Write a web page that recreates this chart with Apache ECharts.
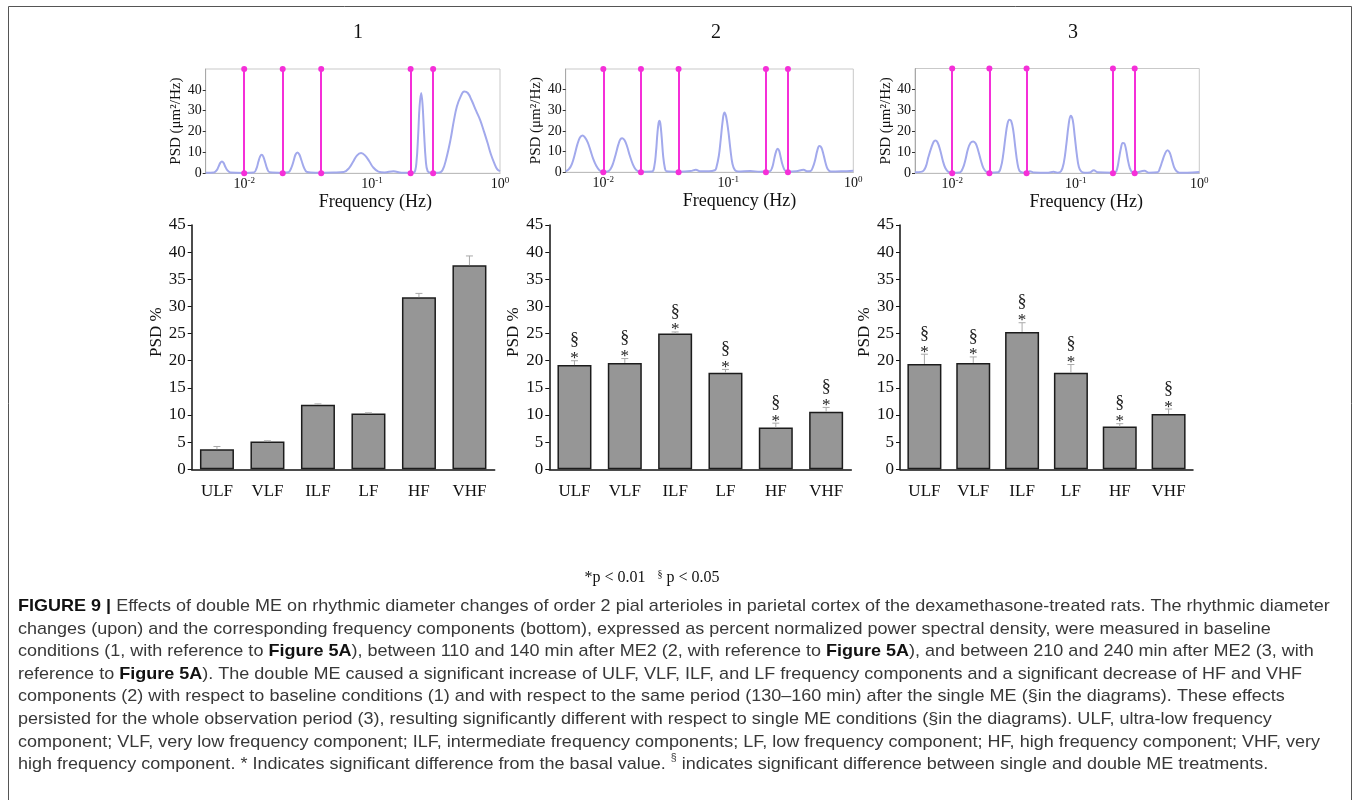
<!DOCTYPE html>
<html>
<head>
<meta charset="utf-8">
<script src="https://cdn.jsdelivr.net/npm/echarts@6/dist/echarts.min.js"></script>
<style>
  html, body { margin: 0; padding: 0; background: #fff; }
  #chart { width: 1360px; height: 800px; }
</style>
</head>
<body>
<div id="chart"></div>
<script>
// ---- Power spectra: [frequency (Hz), PSD (um^2/Hz)] ----
const spectrum1 = [
  [0.005, 0.3], [0.0058, 0.4], [0.0061, 1.5], [0.0063, 3.2], [0.0065, 5.0], [0.0067, 5.7], [0.0069, 5.0], [0.0071, 3.3], [0.0074, 1.4], [0.0078, 0.4],
  [0.0100, 0.2], [0.0119, 0.4], [0.0125, 2.5], [0.0129, 5.5], [0.0133, 8.0], [0.0137, 8.9], [0.0141, 8.0], [0.0146, 5.2], [0.0151, 2.3], [0.0158, 0.5],
  [0.020, 0.3], [0.0222, 0.5], [0.0233, 2.5], [0.0243, 5.8], [0.0252, 9.0], [0.0261, 10.0], [0.0270, 9.0], [0.0281, 6.0], [0.0293, 2.8], [0.0310, 0.6],
  [0.036, 0.3], [0.050, 0.4], [0.060, 0.6], [0.066, 2.5], [0.071, 5.5], [0.076, 8.5], [0.082, 9.7], [0.088, 8.6], [0.095, 5.8], [0.102, 2.8], [0.112, 0.8],
  [0.125, 0.4], [0.147, 1.0], [0.170, 0.3], [0.205, 0.3], [0.214, 0.5], [0.222, 5], [0.229, 18], [0.235, 32], [0.242, 38.5], [0.248, 33], [0.255, 19],
  [0.263, 6], [0.272, 1], [0.290, 0.3], [0.330, 0.3], [0.355, 1.5], [0.380, 7], [0.410, 16], [0.435, 25], [0.460, 32], [0.490, 36.5], [0.525, 39.2],
  [0.560, 38.5], [0.600, 35], [0.650, 30], [0.700, 25.5], [0.750, 20], [0.800, 14.5], [0.850, 9], [0.900, 5], [0.950, 2], [1.0, 1.0]
];
const spectrum2 = [
  [0.005, 0.5], [0.0053, 1.5], [0.0056, 4], [0.0059, 8.5], [0.0062, 13.5], [0.0065, 16.8], [0.0068, 17.8], [0.0071, 17], [0.0075, 14.5], [0.0079, 10.5],
  [0.0083, 6.5], [0.0088, 3], [0.0093, 1], [0.0098, 0.3], [0.0108, 0.4], [0.0114, 1.5], [0.0120, 4.5], [0.0126, 9], [0.0132, 13.5], [0.0137, 16],
  [0.0142, 16.5], [0.0148, 15.5], [0.0155, 12.5], [0.0163, 8], [0.0172, 4], [0.0182, 1.3], [0.0195, 0.3], [0.0245, 0.4], [0.0256, 3], [0.0264, 10],
  [0.0271, 19], [0.0277, 24], [0.0281, 24.9], [0.0286, 23.5], [0.0293, 17], [0.0301, 8], [0.0311, 2], [0.0320, 0.5], [0.040, 0.3], [0.050, 0.6],
  [0.055, 1.2], [0.060, 0.5], [0.070, 0.5], [0.078, 1], [0.080, 2], [0.084, 8], [0.087, 16], [0.090, 24.5], [0.093, 28.9], [0.096, 27],
  [0.100, 20], [0.104, 11], [0.108, 4], [0.113, 1], [0.120, 0.4], [0.150, 0.6], [0.180, 0.3], [0.200, 0.4], [0.215, 0.5], [0.225, 2.5],
  [0.233, 6.5], [0.241, 10], [0.248, 11.4], [0.255, 10.5], [0.263, 7], [0.272, 3.5], [0.283, 1], [0.295, 0.3], [0.350, 0.5], [0.400, 1.2],
  [0.430, 0.5], [0.455, 0.6], [0.475, 2.5], [0.495, 6], [0.515, 10.5], [0.535, 12.7], [0.555, 12], [0.578, 8.5], [0.600, 4.5], [0.625, 1.5],
  [0.660, 0.4], [0.800, 0.5], [1.0, 0.8]
];
const spectrum3 = [
  [0.005, 0.5], [0.0057, 0.8], [0.0061, 3], [0.0064, 7.5], [0.0068, 12.5], [0.0071, 15.2], [0.0073, 15.7], [0.0076, 14.8], [0.0080, 11], [0.0084, 6],
  [0.0088, 2.5], [0.0093, 0.7], [0.0100, 0.3], [0.0115, 0.4], [0.0122, 2.5], [0.0128, 6.5], [0.0134, 11.5], [0.0141, 14.6], [0.0148, 15.2], [0.0155, 14.2],
  [0.0162, 11], [0.0170, 6.5], [0.0179, 2.5], [0.0190, 0.6], [0.0200, 0.3], [0.0235, 0.5], [0.0248, 3], [0.0259, 9], [0.0270, 17.5], [0.0280, 23.5],
  [0.0290, 25.6], [0.0300, 25], [0.0312, 20.5], [0.0324, 12.5], [0.0337, 5], [0.0350, 1.2], [0.0370, 0.4], [0.040, 0.3], [0.0425, 1], [0.046, 0.4],
  [0.060, 0.3], [0.066, 0.7], [0.071, 0.3], [0.076, 1], [0.080, 5], [0.084, 14], [0.0875, 23], [0.091, 27.5], [0.0945, 25.5], [0.098, 18],
  [0.102, 9], [0.106, 3], [0.111, 0.8], [0.118, 0.3], [0.130, 0.4], [0.140, 1.5], [0.150, 0.5], [0.200, 0.3], [0.210, 0.5], [0.217, 2.5],
  [0.224, 7], [0.232, 12], [0.240, 14.5], [0.247, 14.3], [0.255, 11.5], [0.264, 6.5], [0.274, 2.5], [0.285, 0.6], [0.300, 0.3], [0.360, 1.2],
  [0.390, 0.3], [0.460, 0.5], [0.480, 2.5], [0.500, 5.5], [0.525, 9], [0.552, 11], [0.575, 10], [0.600, 6.5], [0.625, 3], [0.655, 1],
  [0.690, 0.3], [0.800, 0.3], [1.0, 0.6]
];
// band limits (Hz) marked on each spectrum
const bandLimits = [0.01, 0.02, 0.04, 0.2, 0.3];

// ---- Frequency components, PSD % (mean and error) ----
const components = ['ULF', 'VLF', 'ILF', 'LF', 'HF', 'VHF'];
const psdBaseline = [3.7, 5.1, 11.9, 10.3, 31.7, 37.6];
const errBaseline = [0.5, 0.15, 0.15, 0.1, 0.7, 1.7];
const psdAfter110 = [19.2, 19.6, 25.0, 17.8, 7.7, 10.6];
const errAfter110 = [0.8, 0.8, 0.3, 0.6, 0.8, 0.8];
const psdAfter210 = [19.4, 19.6, 25.3, 17.8, 7.9, 10.2];
const errAfter210 = [1.8, 1.1, 1.7, 1.5, 0.5, 0.9];
const sigBaseline = ['', '', '', '', '', ''];
const sigAfter110 = ['*§', '*§', '*§', '*§', '*§', '*§'];
const sigAfter210 = ['*§', '*§', '*§', '*§', '*§', '*§'];

const panelTitles = ['1', '2', '3'];
const spectrumTicks = [0, 10, 20, 30, 40];

const captionLines = [
  '{b|FIGURE 9 |} Effects of double ME on rhythmic diameter changes of order 2 pial arterioles in parietal cortex of the dexamethasone-treated rats. The rhythmic diameter',
  'changes (upon) and the corresponding frequency components (bottom), expressed as percent normalized power spectral density, were measured in baseline',
  'conditions (1, with reference to {f|Figure 5A}), between 110 and 140 min after ME2 (2, with reference to {f|Figure 5A}), and between 210 and 240 min after ME2 (3, with',
  'reference to {f|Figure 5A}). The double ME caused a significant increase of ULF, VLF, ILF, and LF frequency components and a significant decrease of HF and VHF',
  'components (2) with respect to baseline conditions (1) and with respect to the same period (130–160 min) after the single ME (§in the diagrams). These effects',
  'persisted for the whole observation period (3), resulting significantly different with respect to single ME conditions (§in the diagrams). ULF, ultra-low frequency',
  'component; VLF, very low frequency component; ILF, intermediate frequency components; LF, low frequency component; HF, high frequency component; VHF, very',
  'high frequency component. * Indicates significant difference from the basal value. {s|§} indicates significant difference between single and double ME treatments.'
];

const SERIF = "'Liberation Serif', 'Times New Roman', serif";
const SANS = "'Liberation Sans', Arial, sans-serif";
const CAPTION_SIZE = 17;

const spectrumGrids = [
  { left: 205.7, top: 69, width: 294.3, height: 104.3 },
  { left: 565.7, top: 69, width: 287.6, height: 103.3 },
  { left: 915, top: 68.5, width: 284.3, height: 104.8 }
];
const barGrids = [
  { left: 191.7, top: 225, width: 303, height: 244.3 },
  { left: 549.3, top: 225, width: 302, height: 244.3 },
  { left: 900, top: 225, width: 293, height: 244.3 }
];
const freqNamePad = [45, 60, 58];

const spectra = [spectrum1, spectrum2, spectrum3];
const means = [psdBaseline, psdAfter110, psdAfter210];
const errs = [errBaseline, errAfter110, errAfter210];
const sigs = [sigBaseline, sigAfter110, sigAfter210];

const grid = [], xAxis = [], yAxis = [], series = [];

spectrumGrids.forEach((g, k) => {
  grid.push(Object.assign({ show: true, borderColor: '#c9c9c9', borderWidth: 1, backgroundColor: 'transparent' }, g));
  xAxis.push({
    gridIndex: k, type: 'log', logBase: 10, min: 0.005, max: 1,
    name: 'Frequency (Hz)', nameLocation: 'middle', nameGap: 18,
    nameTextStyle: { fontFamily: SERIF, fontSize: 18, color: '#111', padding: [0, 0, 0, freqNamePad[k]] },
    axisLine: { show: true, lineStyle: { color: '#bdbdbd', width: 1 } },
    axisTick: { show: false }, splitLine: { show: false },
    axisLabel: {
      showMinLabel: false, margin: 3, fontFamily: SERIF, fontSize: 14, color: '#111', lineHeight: 16,
      formatter: v => '10{s|' + Math.round(Math.log10(v)) + '}',
      rich: { s: { fontFamily: SERIF, fontSize: 9, verticalAlign: 'top', lineHeight: 10, color: '#111' } }
    }
  });
  yAxis.push({
    gridIndex: k, type: 'value', min: 0, max: 50, interval: 10,
    name: 'PSD (μm²/Hz)', nameLocation: 'middle', nameGap: 17,
    nameTextStyle: { fontFamily: SERIF, fontSize: 15, color: '#111' },
    axisLine: { show: true, lineStyle: { color: '#a8a8a8', width: 1 } },
    axisTick: { show: true, length: 3, lineStyle: { color: '#333' }, customValues: spectrumTicks },
    splitLine: { show: false },
    axisLabel: { margin: 4, fontFamily: SERIF, fontSize: 14, color: '#111', customValues: spectrumTicks }
  });
  series.push({
    type: 'line', xAxisIndex: k, yAxisIndex: k, data: spectra[k],
    smooth: 0.4, symbol: 'none', clip: true,
    lineStyle: { color: '#a2a9ec', width: 2 },
    markLine: {
      silent: true, symbol: ['circle', 'circle'], symbolSize: 6,
      label: { show: false },
      lineStyle: { color: '#f52fd8', width: 2, type: 'solid' },
      data: bandLimits.map(f => ({ xAxis: f }))
    }
  });
});

// error bars with significance marks on top
function errorBarItem(k) {
  return function (params, api) {
    const i = api.value(0), m = api.value(1), e = api.value(2);
    const p0 = api.coord([i, m]);
    const p1 = api.coord([i, m + e]);
    const children = [
      { type: 'line', shape: { x1: p0[0], y1: p0[1], x2: p1[0], y2: p1[1] }, style: { stroke: '#a9a9a9', lineWidth: 1 } },
      { type: 'line', shape: { x1: p1[0] - 3.5, y1: p1[1], x2: p1[0] + 3.5, y2: p1[1] }, style: { stroke: '#a9a9a9', lineWidth: 1 } }
    ];
    const s = sigs[k][params.dataIndex];
    if (s.indexOf('*') >= 0) {
      children.push({ type: 'text', x: p1[0], y: p1[1] - 2, style: { text: '*', font: '17px ' + SERIF, fill: '#222', align: 'center', verticalAlign: 'middle', textAlign: 'center', textVerticalAlign: 'middle' } });
    }
    if (s.indexOf('§') >= 0) {
      children.push({ type: 'text', x: p1[0], y: p1[1] - 20, style: { text: '§', font: '18px ' + SERIF, fill: '#222', align: 'center', verticalAlign: 'middle', textAlign: 'center', textVerticalAlign: 'middle' } });
    }
    return { type: 'group', children };
  };
}

barGrids.forEach((g, j) => {
  const k = j + 3;
  grid.push(Object.assign({ show: false }, g));
  xAxis.push({
    gridIndex: k, type: 'category', data: components,
    axisLine: { show: true, lineStyle: { color: '#111', width: 1.5 } },
    axisTick: { show: false },
    axisLabel: { margin: 14, fontFamily: SERIF, fontSize: 17, color: '#111' }
  });
  yAxis.push({
    gridIndex: k, type: 'value', min: 0, max: 45, interval: 5,
    name: 'PSD %', nameLocation: 'middle', nameGap: 27,
    nameTextStyle: { fontFamily: SERIF, fontSize: 17, color: '#111', padding: [0, 0, 0, 30] },
    axisLine: { show: true, lineStyle: { color: '#111', width: 1.5 } },
    axisTick: { show: true, inside: false, length: 4, lineStyle: { color: '#111', width: 1 } },
    splitLine: { show: false },
    axisLabel: { margin: 6, fontFamily: SERIF, fontSize: 17, color: '#111' }
  });
  series.push({
    type: 'bar', xAxisIndex: k, yAxisIndex: k, data: means[j], barWidth: 34,
    itemStyle: { color: '#969696', borderColor: '#1c1c1c', borderWidth: 1.5 }
  });
  series.push({
    type: 'custom', xAxisIndex: k, yAxisIndex: k, z: 5,
    data: means[j].map((m, i) => [i, m, errs[j][i]]),
    renderItem: errorBarItem(j)
  });
});

const titleX = [358, 716, 1073];
const graphic = [
  { type: 'rect', x: 8.5, y: 6.5, shape: { width: 1343, height: 900 }, style: { fill: 'none', stroke: '#555', lineWidth: 1 }, silent: true }
];
panelTitles.forEach((t, i) => {
  graphic.push({ type: 'text', x: titleX[i], y: 33, style: { text: t, font: '20px ' + SERIF, fill: '#111', align: 'center', verticalAlign: 'middle', textAlign: 'center', textVerticalAlign: 'middle' } });
});
graphic.push({
  type: 'text', x: 652, y: 578,
  style: {
    text: '*p < 0.01   {s|§} p < 0.05', font: '16px ' + SERIF, fill: '#111', lineHeight: 18,
    align: 'center', verticalAlign: 'middle', textAlign: 'center', textVerticalAlign: 'middle',
    rich: { s: { font: '10px ' + SERIF, fill: '#111', verticalAlign: 'top', lineHeight: 12 } }
  }
});
graphic.push({
  type: 'text', x: 18, y: 595, scaleX: 1.06,
  style: {
    text: captionLines.join('\n'), font: CAPTION_SIZE + 'px ' + SANS, fill: '#383838', lineHeight: 22.6,
    align: 'left', verticalAlign: 'top', textAlign: 'left', textVerticalAlign: 'top',
    rich: {
      b: { font: 'bold ' + CAPTION_SIZE + 'px ' + SANS, fill: '#111', lineHeight: 22.6 },
      f: { font: 'bold ' + CAPTION_SIZE + 'px ' + SANS, fill: '#111', lineHeight: 22.6 },
      s: { font: '10px ' + SANS, fill: '#383838', verticalAlign: 'top', lineHeight: 22.6 }
    }
  }
});

const chart = echarts.init(document.getElementById('chart'), null, { renderer: 'canvas' });
chart.setOption({
  animation: false,
  backgroundColor: '#fff',
  grid, xAxis, yAxis, series, graphic
});
</script>
</body>
</html>
